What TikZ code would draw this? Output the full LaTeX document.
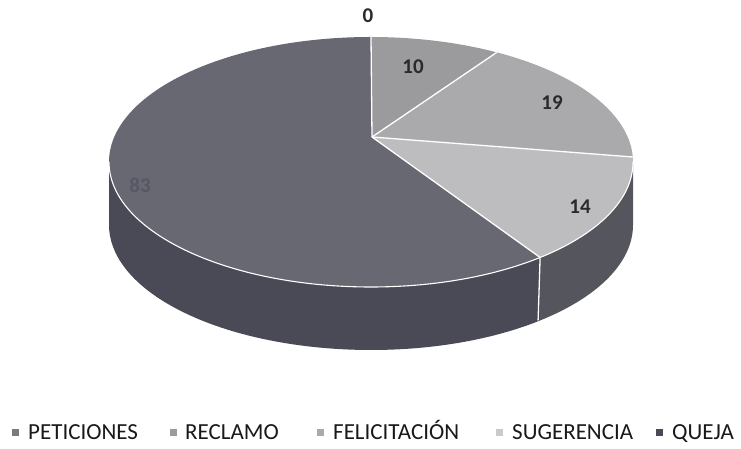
\documentclass[tikz,border=0pt]{standalone}
\usepackage{fontspec}
\setmainfont{Carlito}
\usetikzlibrary{calc}
\definecolor{quejaTop}{HTML}{686873}
\definecolor{quejaSide}{HTML}{4A4A56}
\definecolor{reclTop}{HTML}{9B9B9E}
\definecolor{feliTop}{HTML}{AAAAAC}
\definecolor{sugTop}{HTML}{BDBDBF}
\definecolor{sugSide}{HTML}{55555E}
\definecolor{petiMark}{HTML}{7A7A7E}
\definecolor{labDark}{HTML}{2A2A2A}
\definecolor{labQ}{HTML}{575765}
\tikzset{
  sep/.style={white, line width=1.3pt},
  rim/.style={white, line width=1.1pt},
  datalab/.style={font=\fontsize{21}{24}\selectfont\bfseries, text=labDark, inner sep=0pt},
  legtext/.style={font=\fontsize{23}{26}\selectfont, text=black!90, anchor=base west, inner sep=0pt},
  legmark/.style={minimum size=7pt, inner sep=0pt, draw=none},
}
\begin{document}
\begin{tikzpicture}[x=1pt,y=1pt]
\useasboundingbox (0,0) rectangle (741,449);
\def\rx{262}\def\ry{125}\def\th{63}
\coordinate (C) at (371,287);
\coordinate (A) at (372,312);
\coordinate (L) at ($(C)+(180:\rx pt and \ry pt)$);
\coordinate (P90) at ($(C)+(90:\rx pt and \ry pt)$);
\coordinate (P61) at ($(C)+(61.3:\rx pt and \ry pt)$);
\coordinate (P2) at ($(C)+(2.3:\rx pt and \ry pt)$);
\coordinate (PS) at ($(C)+(-49.8:\rx pt and \ry pt)$);
% sides
\fill[quejaSide] (L) arc[start angle=180, end angle=310.2, x radius=\rx, y radius=\ry]
  -- ++(0,-\th) arc[start angle=310.2, end angle=180, x radius=\rx, y radius=\ry] -- cycle;
\fill[sugSide] (PS) arc[start angle=310.2, end angle=360, x radius=\rx, y radius=\ry]
  -- ++(0,-\th) arc[start angle=360, end angle=310.2, x radius=\rx, y radius=\ry] -- cycle;
% tops
\fill[quejaTop] (A) -- (P90) arc[start angle=90, end angle=310.2, x radius=\rx, y radius=\ry] -- cycle;
\fill[reclTop] (A) -- (P61) arc[start angle=61.3, end angle=90, x radius=\rx, y radius=\ry] -- cycle;
\fill[feliTop] (A) -- (P2) arc[start angle=2.3, end angle=61.3, x radius=\rx, y radius=\ry] -- cycle;
\fill[sugTop] (A) -- (PS) arc[start angle=-49.8, end angle=2.3, x radius=\rx, y radius=\ry] -- cycle;
% rim and separators
\draw[rim] (L) arc[start angle=180, end angle=360, x radius=\rx, y radius=\ry];
\draw[sep] (A) -- (P90);
\draw[sep] (A) -- (P61);
\draw[sep] (A) -- (P2);
\draw[sep] (A) -- (PS);
\draw[sep] (PS) -- ++(-2,-\th);
% data labels
\node[datalab] (l0) at (368,433) {0};
\node[datalab] (l10) at (413,382) {10};
\node[datalab] (l19) at (552,346) {19};
\node[datalab] (l14) at (580,242) {14};
\node[datalab, text=labQ] (l83) at (140,264) {83};
% legend
\node[legmark, fill=petiMark] (m1) at (15,16.5) {};
\node[legtext] (t1) at (28,9) {PETICIONES};
\node[legmark, fill=reclTop] (m2) at (173,16.5) {};
\node[legtext] (t2) at (185,9) {RECLAMO};
\node[legmark, fill=feliTop] (m3) at (320,16.5) {};
\node[legtext] (t3) at (333,9) {FELICITACIÓN};
\node[legmark, fill=sugTop!80!white] (m4) at (499,16.5) {};
\node[legtext] (t4) at (512,9) {SUGERENCIA};
\node[legmark, fill=quejaSide] (m5) at (659,16.5) {};
\node[legtext] (t5) at (672,9) {QUEJA};
\end{tikzpicture}
\end{document}
